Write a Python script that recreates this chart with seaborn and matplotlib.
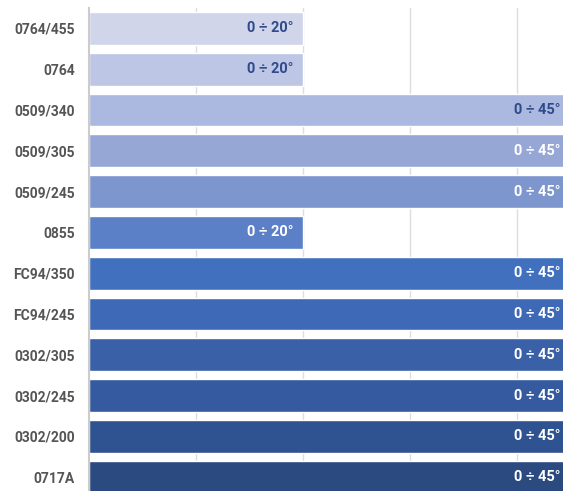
import matplotlib
matplotlib.use("Agg")
import matplotlib.pyplot as plt
import numpy as np
import pandas as pd
import seaborn as sns

# bar categories and their range (upper limit, degrees)
codes = ["0764/455", "0764", "0509/340", "0509/305", "0509/245", "0855",
         "FC94/350", "FC94/245", "0302/305", "0302/245", "0302/200", "0717A"]
upper = [20, 20, 45, 45, 45, 20, 45, 45, 45, 45, 45, 45]
labels = ["0 ÷ %d°" % u for u in upper]

colors = ["#d0d5ea", "#bdc6e4", "#abb8df", "#96a7d6", "#7e96ce", "#5c80c8",
          "#4170be", "#3e69b6", "#3a61a8", "#355aa0", "#2f5290", "#2b4a80"]
label_colors = ["#2f4b8a"] * 3 + ["white"] * 9

df = pd.DataFrame({"code": codes, "upper": upper})

sns.set_style("white")
plt.rcParams["font.family"] = ["Roboto", "DejaVu Sans"]

W, H = 563, 491
fig = plt.figure(figsize=(W / 100, H / 100), dpi=100)
# plot area runs past the right and bottom edges (cropped like the original)
x0, x1 = 89, 89 + 45 * 10.7
y_top, y_bot = 8, 8 + 12 * 40.8
ax = fig.add_axes([x0 / W, 1 - y_bot / H, (x1 - x0) / W, (y_bot - y_top) / H])

sns.barplot(data=df, y="code", x="upper", hue="code", palette=colors,
            saturation=1, legend=False, width=0.8, ax=ax, zorder=2)

ax.set_xlim(0, 45)
ax.set_ylim(11.5, -0.5)
ax.set_xticks([10, 20, 30, 40])
ax.set_xticklabels([])
ax.tick_params(axis="x", length=0)
ax.grid(axis="x", color="#dddddd", linewidth=1, zorder=0)
ax.set_axisbelow(True)
ax.set_xlabel("")
ax.set_ylabel("")

ax.set_yticks(np.arange(12))
ax.set_yticklabels(codes, fontsize=10, fontweight="bold", color="#555555")
ax.tick_params(axis="y", length=0, pad=10)
ax.set_yticks(np.arange(12) + 0.5, minor=True)
ax.tick_params(axis="y", which="minor", length=4, color="#cccccc", width=1)

for s in ["top", "right", "bottom"]:
    ax.spines[s].set_visible(False)
ax.spines["left"].set_color("#cccccc")
ax.spines["left"].set_linewidth(1.5)

# keep the wide-bar labels inside the visible picture
for i, (u, lab) in enumerate(zip(upper, labels)):
    ax.text(u - 0.9, i, lab, ha="right", va="center", fontsize=10.5,
            fontweight="bold", color=label_colors[i], zorder=3)

fig.savefig("out.png", dpi=100)
